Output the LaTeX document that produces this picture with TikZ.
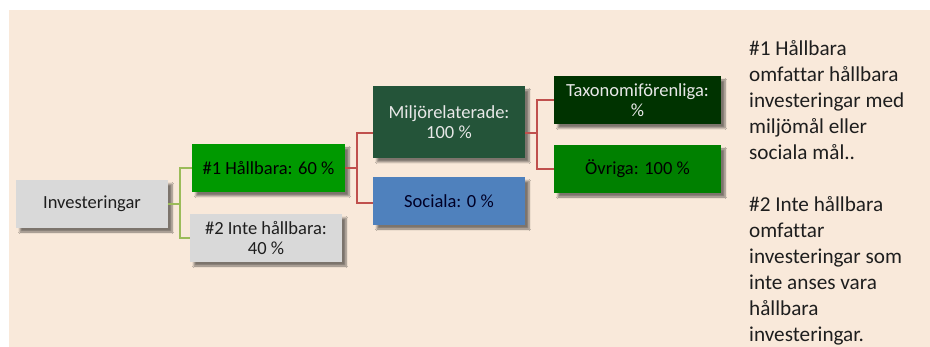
\documentclass[tikz,border=0pt]{standalone}
\usepackage{fontspec}
\setmainfont{Carlito}[Ligatures=NoCommon]
\usetikzlibrary{shadows.blur}
\definecolor{bgbeige}{RGB}{249,233,218}
\definecolor{boxgray}{RGB}{217,217,217}
\definecolor{brightgreen}{RGB}{0,153,0}
\definecolor{darkgreen}{RGB}{36,84,57}
\definecolor{deepgreen}{RGB}{0,51,0}
\definecolor{midgreen}{RGB}{0,128,0}
\definecolor{socblue}{RGB}{79,129,189}
\definecolor{lnred}{RGB}{192,80,77}
\definecolor{lngreen}{RGB}{155,187,89}
\definecolor{txtlight}{RGB}{232,232,232}
\definecolor{txtdark}{RGB}{30,30,30}
\tikzset{
  box/.style={anchor=north west, inner sep=0pt, outer sep=0pt, align=center,
    font=\fontsize{18.5}{20.5}\selectfont,
    blur shadow={shadow xshift=4pt, shadow yshift=-4pt, shadow blur steps=6, shadow opacity=50}},
  gline/.style={draw=lngreen, line width=1.6pt},
  rline/.style={draw=lnred, line width=1.8pt},
  paneltext/.style={anchor=base west, align=left, inner sep=0pt,
    font=\fontsize{21.2}{26}\selectfont, text=txtdark}
}
\begin{document}
\begin{tikzpicture}[x=1pt,y=-1pt]
\useasboundingbox (0,0) rectangle (930,347);
\fill[white] (0,0) rectangle (930,347);
\fill[bgbeige] (9,10) rectangle (930,347);

\node[box, fill=boxgray, text=txtdark, minimum width=152pt, minimum height=48pt] (inv) at (16,180) {Investeringar};
\node[box, fill=brightgreen, text=black, minimum width=153pt, minimum height=48pt] (h1) at (192,144) {\#1 Hållbara: 60 \%};
\node[box, fill=boxgray, text=txtdark, minimum width=152pt, minimum height=48pt] (h2) at (190,214) {\#2 Inte hållbara:\\40 \%};
\node[box, fill=darkgreen, text=txtlight, minimum width=152pt, minimum height=72pt] (milj) at (373,86) {Miljörelaterade:\\100 \%};
\node[box, fill=socblue, text=black!85!blue, minimum width=152pt, minimum height=48pt] (soc) at (373,177) {Sociala: 0 \%};
\node[box, fill=deepgreen, text=txtlight, minimum width=167pt, minimum height=48pt] (tax) at (554,76) {Taxonomiförenliga:\\\%};
\node[box, fill=midgreen, text=black, minimum width=167pt, minimum height=48pt] (ovr) at (554,145) {Övriga: 100 \%};

\draw[gline] (inv.east) -- ++(12,0) |- (h1.west);
\draw[gline] (inv.east) -- ++(12,0) |- (h2.west);
\draw[rline] (h1.east) -- ++(12,0) |- ([yshift=-11pt]milj.west);
\draw[rline] (h1.east) -- ++(12,0) |- ([yshift=-2pt]soc.west);
\draw[rline] ([yshift=-11pt]milj.east) -- ++(12,0) |- (tax.west);
\draw[rline] ([yshift=-11pt]milj.east) -- ++(12,0) |- (ovr.west);

\node[paneltext] (panel) at (749,341.5) {\#1 Hållbara\\omfattar hållbara\\investeringar med\\miljömål eller\\sociala mål..\\[26pt]\#2 Inte hållbara\\omfattar\\investeringar som\\inte anses vara\\hållbara\\investeringar.};
\end{tikzpicture}
\end{document}
